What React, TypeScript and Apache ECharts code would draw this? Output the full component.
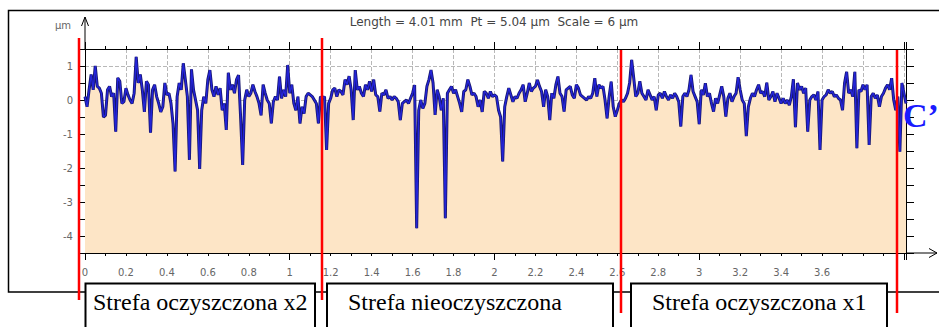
import React, { useEffect, useRef } from 'react';
import * as echarts from 'echarts';

// ---- data -------------------------------------------------------------
const titleText = 'Length = 4.01 mm  Pt = 5.04 µm  Scale = 6 µm';
const yUnit = 'µm';
const xMin = 0;
const xMax = 4.01;
const yMin = -4.5;
const yMax = 1.5;
const stepMm = 0.01; // sampling step of the profile (mm)

// profile height (µm) sampled every 0.01 mm from 0.00 to 4.01 mm
const profileUm = [
  0.1, -0.2, 0.3, 0.75, 0.3, 1.0, 0.4, 0.35, 0.2, -0.5,
  -0.45, 0.3, 0.4, 0.1, 0.2, -0.93, 0.65, 0.55, -0.1, -0.05,
  0.35, 0.15, 0.0, -0.1, 0.2, 1.27, 0.5, 0.75, 0.3, -0.35,
  0.55, 0.45, -0.96, 0.3, 0.45, 0.1, -0.1, -0.35, -0.2, 0.5,
  0.15, 0.2, -0.1, -0.7, -2.1, 0.1, 0.5, 0.3, 1.08, 0.6,
  0.1, -1.76, 0.9, 0.3, 0.0, -0.3, -2.03, -0.3, 0.1, -0.1,
  0.6, 0.88, 0.3, 0.1, 0.4, 0.15, 0.35, -0.3, -0.1, -0.88,
  0.8, 0.3, 0.45, 0.2, 0.6, 0.73, -0.5, -1.91, 0.0, 0.3,
  0.1, 0.2, 0.45, 0.25, 0.1, -0.1, -0.45, 0.45, 0.2, 0.0,
  -0.1, -0.69, -0.05, 0.1, 0.0, 0.69, 0.05, 0.3, 0.1, 1.03,
  0.2, 0.45, -0.1, -0.3, 0.1, -0.69, -0.2, -0.4, 0.1, 0.2,
  0.15, 0.1, 0.0, -0.1, -0.69, 0.1, 0.05, 0.1, -1.47, -0.1,
  0.05, 0.3, 0.35, 0.1, 0.3, 0.25, 0.15, 0.6, 0.45, 0.7,
  0.3, -0.59, 0.88, 0.3, 0.4, 0.2, 0.1, 0.45, 0.3, 0.55,
  0.25, 0.6, 0.15, 0.1, -0.34, 0.2, 0.15, 0.3, 0.05, 0.1,
  0.0, 0.1, 0.05, -0.05, -0.59, -0.1, -0.05, 0.0, -0.1, 0.05,
  0.2, 0.44, -3.77, -0.3, 0.0, -0.25, -0.1, 0.4, 0.6, 0.88,
  0.5, -0.44, 0.3, 0.1, -0.3, 0.05, -3.48, 0.2, 0.3, 0.4,
  0.2, 0.3, 0.1, -0.1, -0.35, 0.25, 0.3, 0.6, 0.4, 0.15,
  0.2, 0.1, -0.2, 0.0, -0.35, 0.25, 0.2, 0.05, 0.25, 0.1,
  0.15, 0.1, -0.3, -0.5, -1.81, -0.2, 0.1, 0.35, 0.15, -0.05,
  0.1, 0.05, 0.2, 0.3, 0.45, -0.05, 0.2, 0.5, 0.25, 0.35,
  0.4, 0.59, 0.4, 0.25, -0.2, 0.3, 0.1, -0.59, 0.2, 0.05,
  0.45, 0.69, 0.2, 0.1, -0.34, 0.3, 0.35, 0.4, 0.15, 0.05,
  0.45, 0.35, 0.15, 0.1, 0.05, 0.0, 0.1, 0.05, 0.2, 0.64,
  0.1, 0.45, 0.35, 0.4, 0.0, -0.54, 0.1, 0.54, -0.2, -0.49,
  -0.3, -0.1, 0.0, -0.05, 0.05, 0.2, 0.5, 1.18, 0.65, 0.1,
  0.2, 0.55, 0.2, 0.1, 0.0, 0.3, 0.15, 0.0, 0.1, -0.3,
  0.15, 0.2, 0.05, 0.25, 0.1, 0.0, 0.15, 0.05, 0.2, 0.1,
  -0.05, -0.78, 0.1, 0.2, 0.1, 0.3, 0.74, 0.25, 0.1, -0.05,
  -0.71, 0.3, 0.15, 0.49, 0.1, 0.2, -0.1, -0.34, 0.05, -0.1,
  0.15, 0.4, 0.1, -0.49, 0.05, 0.2, -0.05, 0.1, 0.2, 0.67,
  0.3, 0.0, -0.1, -1.06, -0.2, 0.05, 0.2, 0.1, 0.3, 0.45,
  0.2, 0.25, 0.1, 0.51, 0.0, 0.1, 0.25, -0.05, 0.2, 0.05,
  -0.1, 0.05, -0.1, 0.0, -0.15, 0.1, 0.61, -0.8, 0.5, 0.3,
  0.4, 0.2, 0.35, -0.93, 0.0, 0.1, 0.15, 0.0, 0.25, -1.47,
  0.0, 0.1, 0.15, 0.3, 0.2, 0.25, 0.1, 0.15, 0.05, 0.0,
  -0.3, 0.5, 0.83, 0.2, 0.3, 0.1, 0.83, -1.42, 0.3, 0.25,
  0.45, 0.3, 0.45, -1.32, 0.1, 0.2, 0.05, 0.15, -0.2, 0.1,
  0.2, 0.35, 0.45, 0.3, 0.64, 0.0, -0.3, 0.1, -1.52, 0.5,
  0.2, -0.1,
];

const xTickLabels = ['0', '0.2', '0.4', '0.6', '0.8', '1', '1.2', '1.4', '1.6', '1.8', '2', '2.2', '2.4', '2.6', '2.8', '3', '3.2', '3.4', '3.6'];
const yTickLabels = ['1', '0', '-1', '-2', '-3', '-4'];
const zoneLabels = ['Strefa oczyszczona x2', 'Strefa nieoczyszczona', 'Strefa oczyszczona x1'];
const markerLabel = 'C’';

// ---- layout / style ----------------------------------------------------
const G = { left: 85, top: 49, width: 821, height: 204 };
const AX = '#000';
const LABEL = { color: '#666', fontFamily: 'DejaVu Sans', fontSize: 10 };
const SERIF = 'Liberation Serif';
const SANS = 'DejaVu Sans';

function fmtX(v: number): string {
  const s = String(Math.round(v * 10) / 10);
  if (Math.abs(v * 10 - Math.round(v * 10)) > 1e-6) return '';
  return xTickLabels.includes(s) ? s : '';
}
function fmtY(v: number): string {
  if (Math.abs(v - Math.round(v)) > 1e-6) return '';
  const s = String(Math.round(v) === 0 ? 0 : Math.round(v));
  return yTickLabels.includes(s) ? s : '';
}

function txt(text: string, x: number, y: number, o: any, z = 10): any {
  return {
    type: 'text', x, y, z,
    style: {
      text,
      fontFamily: o.family, fontSize: o.size, fontWeight: o.weight || 'normal',
      fill: o.color, align: o.align || 'left', verticalAlign: 'middle',
      textAlign: o.align || 'left', textVerticalAlign: 'middle',
    },
  };
}

function buildOption(): any {
  const data = profileUm.map((v, i) => [Number((i * stepMm).toFixed(2)), v]);
  const baseX = { type: 'value', min: xMin, max: xMax, gridIndex: 0 };
  const baseY = { type: 'value', min: yMin, max: yMax, gridIndex: 0 };
  const zoneBoxes = [
    { x: 85.5, w: 229.5, tx: 93 },
    { x: 327, w: 286, tx: 348 },
    { x: 631, w: 256, tx: 652 },
  ];
  const redLines = [
    { x: 79, y1: 38, y2: 300 },
    { x: 322, y1: 38, y2: 300 },
    { x: 621, y1: 50, y2: 313 },
    { x: 897, y1: 50, y2: 313 },
  ];
  const graphic: any[] = [
    { type: 'rect', shape: { x: 8.5, y: 10.5, width: 945, height: 281.5 }, style: { fill: 'none', stroke: '#000', lineWidth: 1.5 }, z: 1 },
    txt(titleText, 494, 22, { family: SANS, size: 12, color: '#444', align: 'center' }),
    txt(yUnit, 63, 25, { family: SANS, size: 10, color: '#666', align: 'center' }),
    { type: 'line', shape: { x1: 85, y1: 49, x2: 85, y2: 17 }, style: { stroke: AX, lineWidth: 1 } },
    { type: 'polyline', shape: { points: [[81.5, 26], [85, 17], [88.5, 26]] }, style: { stroke: AX, lineWidth: 1, fill: 'none' } },
    { type: 'line', shape: { x1: 906, y1: 253, x2: 937, y2: 253 }, style: { stroke: AX, lineWidth: 1 } },
    { type: 'polyline', shape: { points: [[929, 248.5], [937, 253], [929, 257.5]] }, style: { stroke: AX, lineWidth: 1, fill: 'none' } },
  ];
  redLines.forEach((r) => {
    graphic.push({ type: 'line', z: 50, shape: { x1: r.x, y1: r.y1, x2: r.x, y2: r.y2 }, style: { stroke: '#ff0000', lineWidth: 2.5 } });
  });
  zoneBoxes.forEach((b, i) => {
    graphic.push({ type: 'rect', z: 60, shape: { x: b.x, y: 283.5, width: b.w, height: 60 }, style: { fill: '#fff', stroke: '#000', lineWidth: 2 } });
    graphic.push(txt(zoneLabels[i], b.tx, 302, { family: SERIF, size: 24, color: '#000' }, 61));
  });
  graphic.push(txt(markerLabel, 903, 115, { family: SERIF, size: 34, weight: 'bold', color: '#1a1aff' }, 70));

  return {
    animation: false,
    backgroundColor: '#fff',
    grid: { ...G, containLabel: false },
    xAxis: [
      {
        ...baseX, position: 'bottom', interval: 0.1,
        axisLine: { show: true, onZero: false, lineStyle: { color: AX, width: 1 } },
        axisTick: { show: true, length: 3, lineStyle: { color: AX } },
        axisLabel: { ...LABEL, margin: 14, formatter: fmtX },
        splitLine: { show: true, showMinLine: true, lineStyle: { type: 'dashed', color: ['#b8b8b8', 'rgba(0,0,0,0)'], width: 1 } },
      },
      {
        ...baseX, position: 'bottom', interval: 1,
        axisLine: { show: false, onZero: false },
        axisTick: { show: true, length: 7, lineStyle: { color: AX } },
        axisLabel: { show: false }, splitLine: { show: false },
      },
      {
        ...baseX, position: 'top', interval: 0.1,
        axisLine: { show: true, onZero: false, lineStyle: { color: AX, width: 1 } },
        axisTick: { show: true, length: 3, lineStyle: { color: AX } },
        axisLabel: { show: false }, splitLine: { show: false },
      },
      {
        ...baseX, position: 'top', interval: 1,
        axisLine: { show: false, onZero: false },
        axisTick: { show: true, length: 7, lineStyle: { color: AX } },
        axisLabel: { show: false }, splitLine: { show: false },
      },
    ],
    yAxis: [
      {
        ...baseY, position: 'left', interval: 0.5,
        axisLine: { show: true, onZero: false, lineStyle: { color: AX, width: 1 } },
        axisTick: { show: true, length: 5, lineStyle: { color: AX } },
        axisLabel: { ...LABEL, margin: 12, formatter: fmtY },
        splitLine: { show: true, showMinLine: false, showMaxLine: false, lineStyle: { type: 'dashed', color: ['#b8b8b8', 'rgba(0,0,0,0)'], width: 1 } },
      },
      {
        ...baseY, position: 'right', interval: 0.5,
        axisLine: { show: true, onZero: false, lineStyle: { color: AX, width: 1 } },
        axisTick: { show: true, length: 8, lineStyle: { color: AX } },
        axisLabel: { show: false }, splitLine: { show: false },
      },
    ],
    series: [
      {
        type: 'line',
        xAxisIndex: 0,
        yAxisIndex: 0,
        data,
        showSymbol: false,
        symbol: 'none',
        lineStyle: { color: '#16166e', width: 3 },
        areaStyle: { color: '#FDE5C6', opacity: 1, origin: 'start' },
        z: 3,
      },
      {
        type: 'line',
        xAxisIndex: 0,
        yAxisIndex: 0,
        data,
        showSymbol: false,
        symbol: 'none',
        lineStyle: { color: '#2424d8', width: 1.4 },
        z: 4,
      },
    ],
    graphic,
  };
}

export default function App() {
  const ref = useRef<HTMLDivElement>(null);
  useEffect(() => {
    if (!ref.current) return;
    const chart = echarts.init(ref.current, null, { renderer: 'svg' });
    chart.setOption(buildOption());
    return () => chart.dispose();
  }, []);
  return (
    <div
      ref={ref}
      style={{ position: 'absolute', left: 0, top: 0, width: 939, height: 327, background: '#fff' }}
    />
  );
}
